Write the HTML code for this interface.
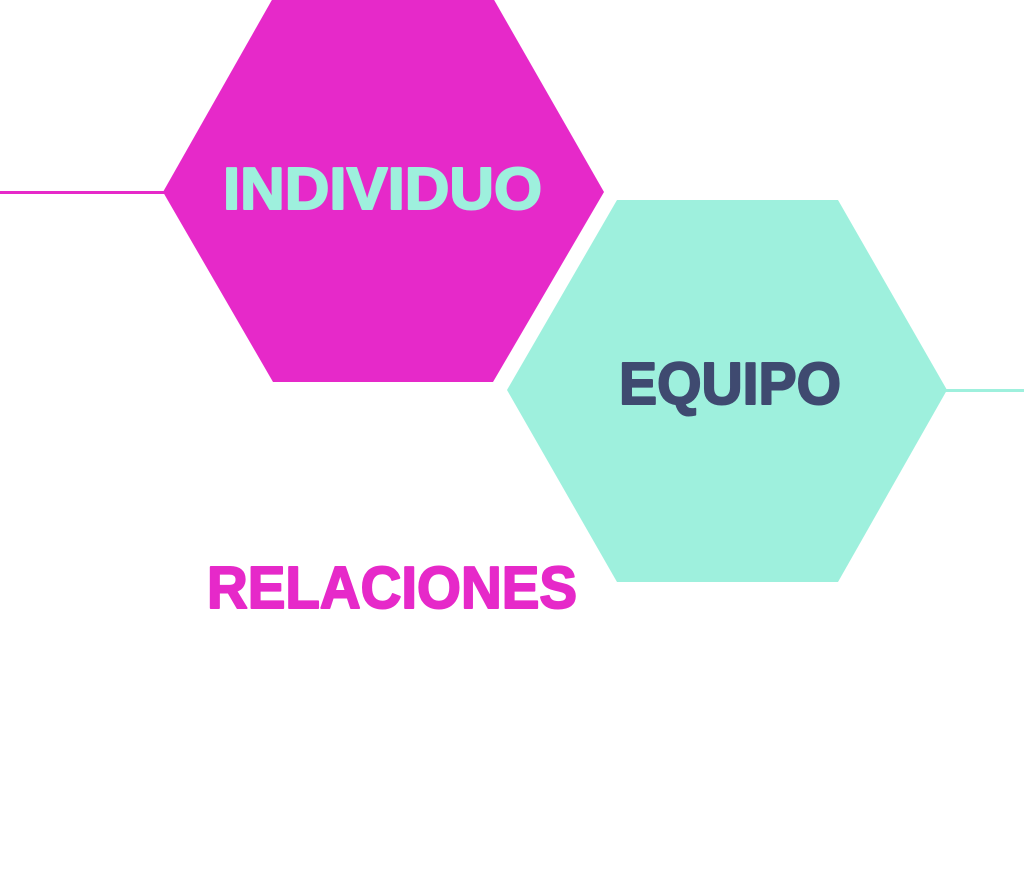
<!DOCTYPE html>
<html><head><meta charset="utf-8"><style>html,body{margin:0;padding:0;background:#fff;width:1024px;height:894px;overflow:hidden}</style></head>
<body>
<svg width="1024" height="894" viewBox="0 0 1024 894" xmlns="http://www.w3.org/2000/svg">
<line x1="0" y1="192.5" x2="165" y2="192.5" stroke="#e629c9" stroke-width="3"/>
<line x1="945" y1="390.5" x2="1024" y2="390.5" stroke="#9ef0dd" stroke-width="3"/>
<polygon points="273,-2 493,-2 604,192 493,382 273,382 163,192" fill="#e629c9"/>
<polygon points="617,200 838,200 947,390 838,582 617,582 507,390" fill="#9ef0dd"/>
<g font-family="Liberation Sans, sans-serif" font-weight="bold" font-size="59" stroke-width="2" stroke-linejoin="round">
<text x="223" y="209" textLength="319" lengthAdjust="spacingAndGlyphs" fill="#9ef0dd" stroke="#9ef0dd">INDIVIDUO</text>
<text x="619" y="404" textLength="222" lengthAdjust="spacingAndGlyphs" fill="#3f4a70" stroke="#3f4a70">EQUIPO</text>
<text x="207" y="608" textLength="370" lengthAdjust="spacingAndGlyphs" fill="#e629c9" stroke="#e629c9">RELACIONES</text>
</g>
</svg>
</body></html>
